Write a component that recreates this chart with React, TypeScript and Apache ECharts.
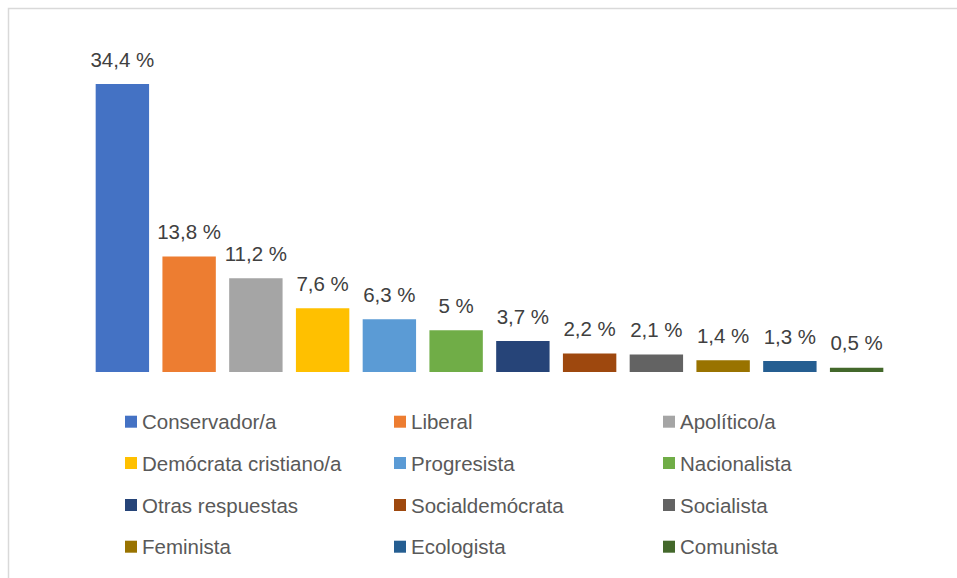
import React, { useEffect, useRef } from "react";
import * as echarts from "echarts";

const categories = [
  "Conservador/a",
  "Liberal",
  "Apolítico/a",
  "Demócrata cristiano/a",
  "Progresista",
  "Nacionalista",
  "Otras respuestas",
  "Socialdemócrata",
  "Socialista",
  "Feminista",
  "Ecologista",
  "Comunista",
];

const values = [34.4, 13.8, 11.2, 7.6, 6.3, 5, 3.7, 2.2, 2.1, 1.4, 1.3, 0.5];

const colors = [
  "#4472C4",
  "#ED7D31",
  "#A5A5A5",
  "#FFC000",
  "#5B9BD5",
  "#70AD47",
  "#264478",
  "#9E480E",
  "#636363",
  "#997300",
  "#255E91",
  "#43682B",
];

const FONT = "'Liberation Sans Narrow', 'Arial Narrow', 'Liberation Sans', Arial, sans-serif";
const FS = 20.5;

export default function App() {
  const ref = useRef<HTMLDivElement>(null);

  useEffect(() => {
    if (!ref.current) return;
    const chart = echarts.init(ref.current, undefined, { renderer: "svg" });

    const series = categories.map((name, i) => ({
      name,
      type: "bar",
      stack: "all",
      barCategoryGap: "20%",
      itemStyle: { color: colors[i] },
      label: {
        show: true,
        position: "top",
        distance: 14.5,
        fontFamily: FONT,
        fontSize: FS,
        color: "#404040",
        formatter: (p: any) => String(p.value).replace(".", ",") + " %",
      },
      data: categories.map((_, j) => (j === i ? values[i] : "-")),
    }));

    const colX = [125, 394, 663];
    const rowY = [421.7, 463, 505, 546.7];
    const legends = categories.map((name, i) => ({
      data: [name],
      orient: "horizontal",
      left: colX[i % 3],
      top: rowY[Math.floor(i / 3)] - 12,
      padding: 0,
      icon: "rect",
      itemWidth: 12,
      itemHeight: 12,
      selectedMode: false,
      textStyle: {
        fontFamily: FONT,
        fontSize: FS,
        color: "#595959",
        lineHeight: 24,
      },
    }));

    chart.setOption({
      animation: false,
      backgroundColor: "#ffffff",
      grid: { left: 89, right: 67, top: 84, bottom: 206 },
      xAxis: {
        type: "category",
        data: categories,
        show: false,
      },
      yAxis: {
        type: "value",
        min: 0,
        max: 34.4,
        show: false,
      },
      legend: legends,
      series,
      graphic: [
        {
          type: "polyline",
          shape: {
            points: [
              [8.5, 578],
              [8.5, 8.5],
              [957, 8.5],
            ],
          },
          style: { stroke: "#d9d9d9", lineWidth: 1.5, fill: "none" },
          silent: true,
        },
      ],
    });

    return () => chart.dispose();
  }, []);

  return (
    <div
      ref={ref}
      style={{ position: "absolute", left: 0, top: 0, width: 957, height: 578 }}
    />
  );
}
